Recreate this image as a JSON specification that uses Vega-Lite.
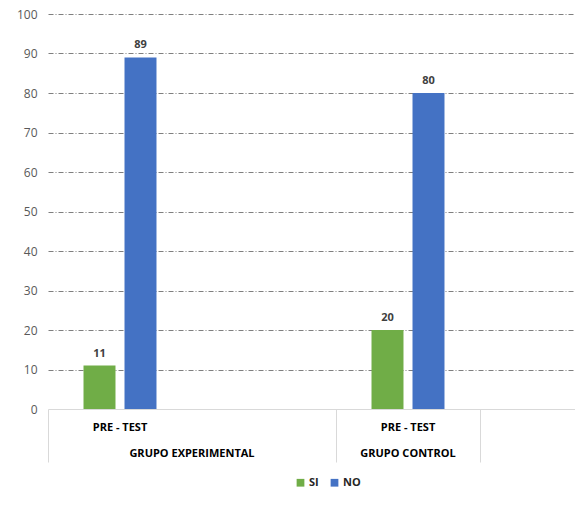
{
  "$schema": "https://vega.github.io/schema/vega-lite/v6.json",
  "autosize": "none",
  "width": 524,
  "height": 395,
  "padding": {"left": 48, "top": 14, "right": 3, "bottom": 98},
  "background": "white",
  "config": {
    "view": {"stroke": null},
    "font": "Open Sans",
    "axisY": {
      "title": null,
      "values": [0, 10, 20, 30, 40, 50, 60, 70, 80, 90, 100],
      "labelOverlap": false,
      "domain": false,
      "ticks": false,
      "labelFont": "Open Sans",
      "labelFontSize": 12,
      "labelColor": "#595959",
      "labelPadding": 11,
      "grid": true,
      "gridDash": [5, 2, 1, 2],
      "gridWidth": 1,
      "gridColor": "#7f7f7f"
    }
  },
  "data": {
    "values": [
      {"slot": "EXP|PRE", "grupo": "GRUPO EXPERIMENTAL", "test": "PRE - TEST", "respuesta": "SI", "valor": 11},
      {"slot": "EXP|PRE", "grupo": "GRUPO EXPERIMENTAL", "test": "PRE - TEST", "respuesta": "NO", "valor": 89},
      {"slot": "CTRL|PRE", "grupo": "GRUPO CONTROL", "test": "PRE - TEST", "respuesta": "SI", "valor": 20},
      {"slot": "CTRL|PRE", "grupo": "GRUPO CONTROL", "test": "PRE - TEST", "respuesta": "NO", "valor": 80}
    ]
  },
  "resolve": {"axis": {"x": "independent"}},
  "layer": [
    {
      "mark": {"type": "bar"},
      "encoding": {
        "x": {
          "field": "slot",
          "type": "nominal",
          "scale": {
            "domain": ["EXP|PRE", "EXP|POST", "CTRL|PRE", "CTRL|POST"],
            "range": [0, 576],
            "paddingInner": 0,
            "paddingOuter": 0
          },
          "axis": {
            "orient": "bottom",
            "title": null,
            "domain": true,
            "domainColor": "#d9d9d9",
            "domainWidth": 1,
            "ticks": false,
            "labelAngle": 0,
            "labelExpr": "indexof(datum.value, 'PRE') >= 0 ? 'PRE - TEST' : ''",
            "labelFont": "Open Sans",
            "labelFontWeight": "bold",
            "labelFontSize": 11,
            "labelColor": "#000000",
            "labelPadding": 12
          }
        },
        "xOffset": {
          "field": "respuesta",
          "type": "nominal",
          "scale": {"domain": ["SI", "NO"], "paddingInner": 0.22, "paddingOuter": 0.866}
        },
        "y": {
          "field": "valor",
          "type": "quantitative",
          "scale": {"domain": [0, 100]},
          "axis": {
            "gridColor": {"condition": {"test": "datum.value == 0", "value": "transparent"}, "value": "#7f7f7f"}
          }
        },
        "color": {
          "field": "respuesta",
          "type": "nominal",
          "scale": {"domain": ["SI", "NO"], "range": ["#70AD47", "#4472C4"]},
          "legend": {
            "title": null,
            "orient": "none",
            "direction": "horizontal",
            "legendX": 247,
            "legendY": 463,
            "symbolType": "square",
            "symbolSize": 60,
            "symbolStrokeWidth": 0,
            "labelFont": "Open Sans",
            "labelFontSize": 11,
            "labelFontWeight": "bold",
            "labelColor": "#262626",
            "labelOffset": 3,
            "columnPadding": 10
          }
        }
      }
    },
    {
      "mark": {"type": "text", "baseline": "middle", "dy": -12, "font": "Open Sans", "fontWeight": "bold", "fontSize": 11, "color": "#404040"},
      "encoding": {
        "x": {
          "field": "slot",
          "type": "nominal",
          "axis": {
            "orient": "bottom",
            "title": null,
            "domain": false,
            "values": ["EXP|PRE", "CTRL|PRE", "CTRL|POST"],
            "bandPosition": 0,
            "ticks": true,
            "tickSize": 53,
            "tickColor": "#d9d9d9",
            "tickWidth": 1,
            "labelAngle": 0,
            "labelAlign": "center",
            "labelExpr": "datum.value == 'EXP|PRE' ? 'GRUPO EXPERIMENTAL' : datum.value == 'CTRL|PRE' ? 'GRUPO CONTROL' : ''",
            "labelOffset": {"condition": {"test": "datum.value == 'EXP|PRE'", "value": 72}, "value": 0},
            "labelFont": "Open Sans",
            "labelFontWeight": "bold",
            "labelFontSize": 11,
            "labelColor": "#000000",
            "labelPadding": -15
          }
        },
        "xOffset": {"field": "respuesta", "type": "nominal"},
        "y": {
          "field": "valor",
          "type": "quantitative",
          "axis": {
            "gridColor": {"condition": {"test": "datum.value == 0", "value": "transparent"}, "value": "#7f7f7f"}
          }
        },
        "text": {"field": "valor", "type": "quantitative"}
      }
    }
  ]
}
